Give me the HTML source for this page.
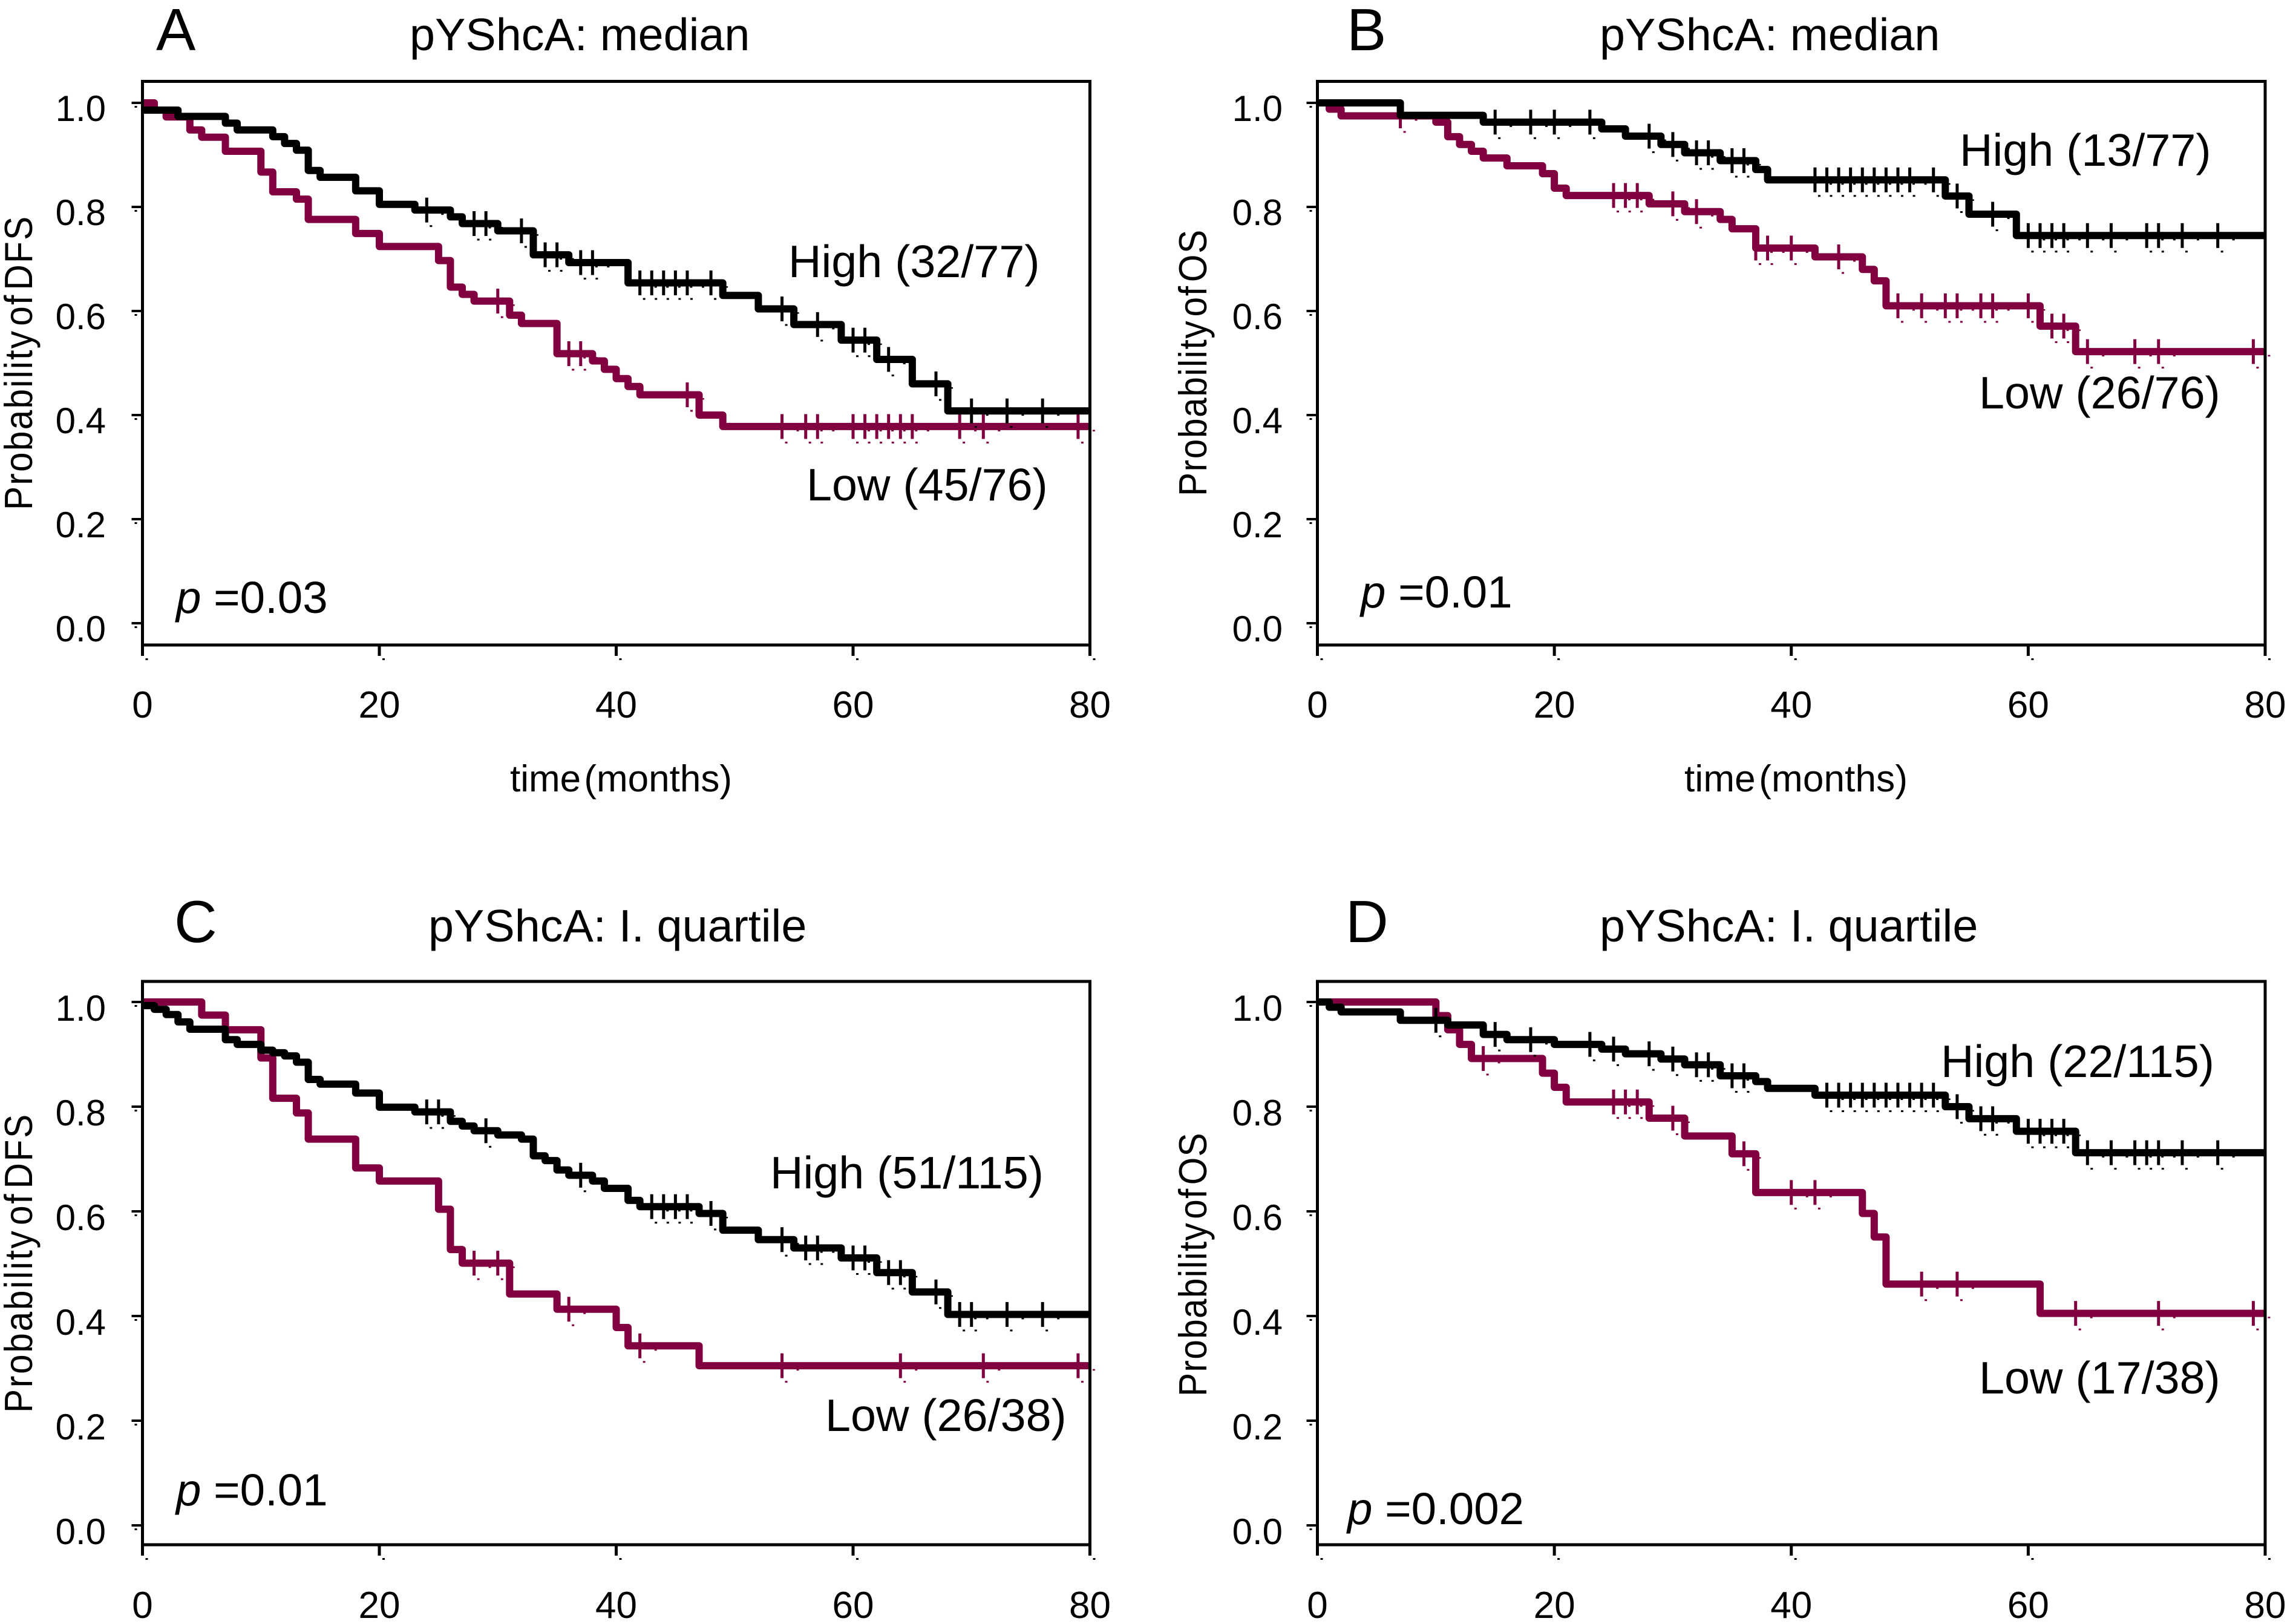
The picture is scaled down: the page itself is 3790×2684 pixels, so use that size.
<!DOCTYPE html>
<html lang="en">
<head>
<meta charset="utf-8">
<title>pYShcA Kaplan-Meier curves</title>
<style>
html,body{margin:0;padding:0;background:#fff;}
svg{display:block;}
text{font-family:"Liberation Sans",sans-serif;fill:#000;}
.big{font-size:75.5px;}
.pv{font-size:74.5px;}
.letter{font-size:98px;}
.ylab{font-size:65px;word-spacing:-14px;}
.xlab{font-size:62px;word-spacing:-12px;}
</style>
</head>
<body>
<svg id="chart" xmlns="http://www.w3.org/2000/svg" width="3790" height="2684" viewBox="0 0 3790 2684">
<rect x="0" y="0" width="3790" height="2684" fill="#fff"/>

<g id="panel-a">
<text class="letter" x="258" y="83">A</text>
<text class="big" x="677" y="83">pYShcA: median</text>
<text class="ylab" transform="translate(53,843) rotate(-90) scale(0.9,1)" textLength="539" lengthAdjust="spacing">Probability of DFS</text>
<text class="xlab" x="843" y="1308" textLength="367" lengthAdjust="spacing">time (months)</text>
<text class="big" x="1303" y="458">High (32/77)</text>
<text class="big" x="1333" y="827">Low (45/76)</text>
<text class="pv" x="291" y="1013"><tspan font-style="italic">p</tspan> =0.03</text>
</g>

<g id="panel-b">
<text class="letter" x="2226" y="83">B</text>
<text class="big" x="2644" y="83">pYShcA: median</text>
<text class="ylab" transform="translate(1994,820) rotate(-90) scale(0.9,1)" textLength="489" lengthAdjust="spacing">Probability of OS</text>
<text class="xlab" x="2784" y="1308" textLength="369" lengthAdjust="spacing">time (months)</text>
<text class="big" x="3239" y="274">High (13/77)</text>
<text class="big" x="3271" y="675">Low (26/76)</text>
<text class="pv" x="2249" y="1004"><tspan font-style="italic">p</tspan> =0.01</text>
</g>

<g id="panel-c">
<text class="letter" x="288" y="1557">C</text>
<text class="big" x="708" y="1556">pYShcA: I. quartile</text>
<text class="ylab" transform="translate(53,2335) rotate(-90) scale(0.9,1)" textLength="548" lengthAdjust="spacing">Probability of DFS</text>
<text class="big" x="1273" y="1964">High (51/115)</text>
<text class="big" x="1364" y="2365">Low (26/38)</text>
<text class="pv" x="291" y="2488"><tspan font-style="italic">p</tspan> =0.01</text>
</g>

<g id="panel-d">
<text class="letter" x="2224" y="1557">D</text>
<text class="big" x="2644" y="1556">pYShcA: I. quartile</text>
<text class="ylab" transform="translate(1994,2308) rotate(-90) scale(0.9,1)" textLength="484" lengthAdjust="spacing">Probability of OS</text>
<text class="big" x="3208" y="1780">High (22/115)</text>
<text class="big" x="3271" y="2303">Low (17/38)</text>
<text class="pv" x="2227" y="2519"><tspan font-style="italic">p</tspan> =0.002</text>
</g>
</svg>

<script>
// Axis tick values
var xTickValues = [0, 20, 40, 60, 80];
var yTickValues = [0.0, 0.2, 0.4, 0.6, 0.8, 1.0];

// Panel A
var aHighTimes = [0,3,7,8,11,12,13,14,15,18,20,23,26,27,30,33,36,41,49,52,55,59,62,65,68];
var aHighSurv = [.986,.974,.961,.948,.935,.922,.909,.87,.857,.831,.805,.794,.781,.768,.754,.708,.693,.654,.63,.604,.574,.544,.507,.46,.408];
var aHighCensor = [24,28,29,32,34,35,37,38,42,43,44,45,46,48,54,57,60,61,63,67,70,73,76];
var aLowTimes = [0,1,2,4,5,7,10,11,13,14,18,20,25,26,27,28,31,32,35,38,39,40,41,42,47,49];
var aLowSurv = [1,.986,.973,.948,.934,.907,.867,.829,.815,.776,.749,.724,.697,.646,.632,.619,.592,.576,.518,.504,.488,.47,.455,.439,.4,.378];
var aLowCensor = [30,36,37,46,54,56,57,60,61,62,63,64,65,69,71,79];

// Panel B
var bHighTimes = [0,7,14,24,26,29,31,34,37,38,53,55,59];
var bHighSurv = [1,.976,.963,.95,.936,.92,.904,.889,.872,.852,.821,.786,.745];
var bHighCensor = [15,18,20,23,28,30,32,33,35,36,42,43,44,45,46,47,48,49,50,52,54,57,60,61,62,63,65,67,70,71,73,76];
var bLowTimes = [0,1,2,10,11,12,13,14,16,19,20,21,28,31,34,35,37,42,46,47,48,61,64];
var bLowSurv = [1,.988,.975,.963,.935,.92,.907,.894,.879,.864,.836,.822,.806,.791,.776,.758,.721,.704,.68,.658,.61,.571,.522];
var bLowCensor = [7,25,26,27,30,32,37,38,40,44,49,51,53,54,56,57,60,62,63,65,69,71,79];

// Panel C
var cHighTimes = [0,1,2,3,4,7,8,10,11,12,13,14,15,18,20,23,26,27,28,30,32,33,34,35,36,38,39,41,42,47,49,52,55,59,62,65,68];
var cHighSurv = [.993,.986,.976,.962,.948,.928,.919,.908,.903,.897,.885,.852,.843,.826,.799,.79,.772,.763,.754,.746,.738,.706,.697,.679,.669,.658,.644,.621,.609,.596,.564,.546,.53,.511,.483,.446,.403];
var cHighCensor = [24,25,29,37,43,44,45,46,48,54,56,57,60,61,63,64,67,69,70,73,76];
var cLowTimes = [0,5,7,10,11,13,14,18,20,25,26,27,31,35,40,41,47];
var cLowSurv = [1,.975,.947,.893,.816,.788,.738,.683,.658,.604,.527,.501,.442,.413,.378,.343,.305];
var cLowCensor = [28,30,36,42,54,64,71,79];

// Panel D
var dHighTimes = [0,1,2,7,11,14,16,20,24,26,29,31,34,37,38,42,53,55,59,64];
var dHighSurv = [1,.99,.981,.965,.956,.938,.928,.919,.91,.901,.891,.88,.859,.848,.835,.822,.8,.777,.753,.712];
var dHighCensor = [10,15,18,23,25,28,30,32,33,35,36,43,44,45,46,47,48,49,50,51,52,54,56,57,60,61,62,63,65,67,69,70,71,73,76];
var dLowTimes = [0,10,11,12,13,19,20,21,28,31,35,37,46,47,48,61];
var dLowSurv = [1,.974,.947,.919,.892,.864,.837,.809,.778,.744,.71,.636,.596,.551,.461,.405];
var dLowCensor = [14,25,26,27,30,36,40,42,51,54,64,71,79];

var SVGNS = 'http://www.w3.org/2000/svg';
var LOW_COLOR = '#800040';
var HIGH_COLOR = '#000000';

function make(tag, attrs, parent) {
  var el = document.createElementNS(SVGNS, tag);
  for (var k in attrs) { el.setAttribute(k, attrs[k]); }
  parent.appendChild(el);
  return el;
}

function survivalAt(times, surv, t) {
  var value = surv[0];
  for (var i = 0; i < times.length; i++) {
    if (times[i] <= t) { value = surv[i]; }
  }
  return value;
}

function drawSeries(group, sx, sy, times, surv, censor, color, seriesName) {
  var d = 'M' + sx(times[0]) + ' ' + sy(surv[0]);
  for (var i = 1; i < times.length; i++) {
    d += 'H' + sx(times[i]) + 'V' + sy(surv[i]);
  }
  d += 'H' + sx(80);
  var line = make('path', {d: d, fill: 'none', stroke: color, 'stroke-width': 12, 'stroke-linejoin': 'round'}, group);
  
  
  for (var j = 0; j < censor.length; j++) {
    var cx = sx(censor[j]);
    var cy = sy(survivalAt(times, surv, censor[j]));
    var tick = make('rect', {x: cx - 2.5, y: cy - 20.5, width: 5, height: 41, fill: color}, group);
    
    
    var dot = make('rect', {x: cx + 5, y: cy + 25, width: 4, height: 3, fill: color}, group);
    
    
    var edgeDot = make('rect', {x: cx + 24, y: cy + 5.5, width: 4, height: 2.5, fill: color}, group);
    
    
  }
}

function drawPanel(id, left, right, top, bottom, yOne, yZero, labelAnchor, labelOffset, xLabelBase, high, low) {
  var group = document.getElementById(id);
  var sx = function (t) { return left + (right - left) * t / 80; };
  var sy = function (v) { return yZero + (yOne - yZero) * v; };

  drawSeries(group, sx, sy, low.times, low.surv, low.censor, LOW_COLOR, id + '-low');
  drawSeries(group, sx, sy, high.times, high.surv, high.censor, HIGH_COLOR, id + '-high');

  var frame = make('rect', {x: left, y: top, width: right - left, height: bottom - top, fill: 'none', stroke: '#000', 'stroke-width': 5}, group);
  
  

  xTickValues.forEach(function (v) {
    var x = sx(v);
    var mark = make('rect', {x: x - 2.5, y: bottom, width: 5, height: 18, fill: '#000'}, group);
    
    
    var pip = make('rect', {x: x + 5, y: bottom + 22, width: 4, height: 3, fill: '#000'}, group);
    
    
    var label = make('text', {x: x, y: xLabelBase, 'text-anchor': 'middle', style: 'font-size:62px'}, group);
    
    
    label.textContent = String(v);
  });

  yTickValues.forEach(function (v) {
    var y = sy(v);
    var mark = make('rect', {x: left - 18, y: y - 2, width: 18, height: 4, fill: '#000'}, group);
    
    
    var pip = make('rect', {x: left - 13, y: y + 5, width: 4, height: 3, fill: '#000'}, group);
    
    
    var label = make('text', {x: labelAnchor, y: y + labelOffset, 'text-anchor': 'end', style: 'font-size:60px'}, group);
    
    
    label.textContent = v.toFixed(1);
  });
}

drawPanel('panel-a', 235.5, 1801.5, 134.5, 1066, 170, 1030, 175, 30, 1186,
  {times: aHighTimes, surv: aHighSurv, censor: aHighCensor},
  {times: aLowTimes, surv: aLowSurv, censor: aLowCensor});
drawPanel('panel-b', 2177.5, 3744, 134.5, 1066, 170, 1030, 2120, 30, 1186,
  {times: bHighTimes, surv: bHighSurv, censor: bHighCensor},
  {times: bLowTimes, surv: bLowSurv, censor: bLowCensor});
drawPanel('panel-c', 235.5, 1801.5, 1622, 2553, 1656, 2521, 175, 31, 2674,
  {times: cHighTimes, surv: cHighSurv, censor: cHighCensor},
  {times: cLowTimes, surv: cLowSurv, censor: cLowCensor});
drawPanel('panel-d', 2177.5, 3744, 1622, 2553, 1656, 2521, 2120, 31, 2674,
  {times: dHighTimes, surv: dHighSurv, censor: dHighCensor},
  {times: dLowTimes, surv: dLowSurv, censor: dLowCensor});
</script>
</body>
</html>
